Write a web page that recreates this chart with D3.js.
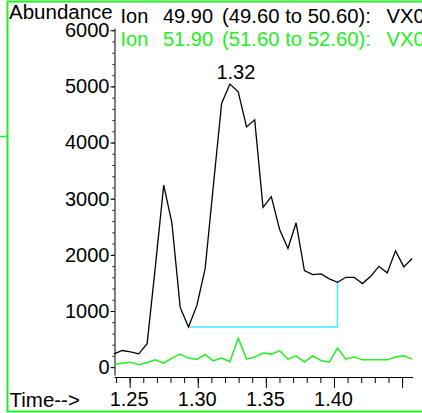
<!DOCTYPE html>
<html>
<head>
<meta charset="utf-8">
<script src="https://cdnjs.cloudflare.com/ajax/libs/d3/7.8.5/d3.min.js"></script>
<style>
body { margin: 0; background: #fff; }
svg { display: block; font-family: "Liberation Sans", Arial, sans-serif; }
</style>
</head>
<body>
<svg width="422" height="413"></svg>
<script>
var svg = d3.select("svg"),
	width = +svg.attr("width"),
	height = +svg.attr("height");

//scan times (min)
var times = [1.2385, 1.2446, 1.2506, 1.2567, 1.2628, 1.2689, 1.2750, 1.2810, 1.2871, 1.2932,
	1.2993, 1.3054, 1.3114, 1.3175, 1.3236, 1.3297, 1.3358, 1.3418, 1.3479, 1.3540,
	1.3601, 1.3662, 1.3722, 1.3783, 1.3844, 1.3905, 1.3966, 1.4026, 1.4087, 1.4148,
	1.4209, 1.4270, 1.4330, 1.4391, 1.4452, 1.4513, 1.4574];

//ion 49.90 abundance (black trace)
var ion49 = [237, 296, 273, 237, 416, 1800, 3243, 2571, 1064, 714,
	1095, 1750, 3220, 4696, 5041, 4904, 4279, 4404, 2845, 3036,
	2452, 2113, 2571, 1720, 1648, 1661, 1571, 1511, 1600, 1600,
	1488, 1618, 1796, 1679, 2071, 1786, 1934];

//ion 51.90 abundance (green trace)
var ion52 = [46, 71, 89, 41, 82, 130, 71, 161, 232, 161,
	136, 225, 113, 161, 95, 518, 143, 179, 250, 232,
	291, 143, 202, 89, 202, 118, 89, 339, 143, 179,
	130, 130, 130, 130, 179, 202, 143];

var yMajor = [0, 1000, 2000, 3000, 4000, 5000, 6000];
var xMajor = [1.25, 1.30, 1.35, 1.40, 1.45];
var xLabels = ["1.25", "1.30", "1.35", "1.40", ""];
var legendIons = ["49.90", "51.90"];
var legendRanges = ["(49.60 to 50.60):", "(51.60 to 52.60):"];
var fileName = "VX0";

//integration: peak apex and baseline from scan to scan
var peakIndex = 14, peakLabel = "1.32";
var baseFrom = 9, baseTo = 27;

var green = "#22f022", cyan = "#40eef8";

//scales
var x = d3.scaleLinear().domain([1.2385, 1.4578]).range([114, 412.7]);
var y = d3.scaleLinear().domain([-140, 6040]).range([375, 28]);

//green frame round the panel
svg.append("rect")
	.attr("x", 7.5).attr("y", 1.5)
	.attr("width", 420).attr("height", 410)
	.attr("fill", "none")
	.attr("stroke", green)
	.attr("stroke-width", 2);

svg.append("line")
	.attr("x1", 0).attr("x2", 7)
	.attr("y1", 136.5).attr("y2", 136.5)
	.attr("stroke", green)
	.attr("stroke-width", 1.5);

//y axis, minor ticks every 200
svg.append("g")
	.attr("transform", "translate(114.5,0)")
	.call(d3.axisLeft(y).tickValues(d3.range(0, 6001, 200)).tickSize(2).tickSizeOuter(0).tickFormat(""))
	.call(function (g) { g.selectAll("line, path").attr("stroke", "#000"); });

var yAxis = svg.append("g")
	.attr("transform", "translate(114.5,0)")
	.call(d3.axisLeft(y).tickValues(yMajor).tickSize(4).tickPadding(1).tickSizeOuter(0).tickFormat(d3.format("d")));
yAxis.select(".domain").remove();
yAxis.selectAll("text")
	.attr("font-size", 20)
	.attr("font-family", "Liberation Sans, Arial, sans-serif")
	.attr("fill", "#000");

//x axis, minor ticks every 0.01
svg.append("g")
	.attr("transform", "translate(0,377)")
	.call(d3.axisBottom(x).tickValues(d3.range(124, 146).map(function (d) { return d / 100; })).tickSize(6).tickSizeOuter(0).tickFormat(""))
	.call(function (g) { g.selectAll("line, path").attr("stroke", "#000"); });

var xAxis = svg.append("g")
	.attr("transform", "translate(0,377)")
	.call(d3.axisBottom(x).tickValues(xMajor).tickSize(11).tickPadding(4).tickSizeOuter(0)
		.tickFormat(function (d, i) { return xLabels[i]; }));
xAxis.select(".domain").remove();
xAxis.selectAll("text")
	.attr("font-size", 20)
	.attr("font-family", "Liberation Sans, Arial, sans-serif")
	.attr("fill", "#000")
	.attr("dx", -1);

//axis titles
svg.append("text")
	.attr("x", 9).attr("y", 19)
	.attr("font-size", 20.5)
	.text("Abundance");

svg.append("text")
	.attr("x", 9.5).attr("y", 406.5)
	.attr("font-size", 20.5)
	.text("Time-->");

//ion legend lines
legendIons.forEach(function (ion, i) {
	var c = i == 0 ? "#000" : green;
	var by = i == 0 ? 22.5 : 46;
	svg.append("text").attr("x", 120.5).attr("y", by).attr("font-size", 20).attr("fill", c).text("Ion");
	svg.append("text").attr("x", 163).attr("y", by).attr("font-size", 20).attr("fill", c).text(ion);
	svg.append("text").attr("x", 222).attr("y", by).attr("font-size", 20.3).attr("fill", c).text(legendRanges[i]);
	svg.append("text").attr("x", 386.5).attr("y", by).attr("font-size", 20.3).attr("fill", c).text(fileName);
});

//traces
var line = d3.line()
	.x(function (d, i) { return x(times[i]); })
	.y(function (d) { return y(d); });

svg.append("path")
	.datum(ion52)
	.attr("d", line)
	.attr("fill", "none")
	.attr("stroke", green)
	.attr("stroke-width", 1.5);

//integration baseline
var baseY = y(ion49[baseFrom]);
svg.append("path")
	.attr("d", "M" + x(times[baseFrom]) + "," + baseY +
		"H" + x(times[baseTo]) +
		"V" + y(ion49[baseTo]))
	.attr("fill", "none")
	.attr("stroke", cyan)
	.attr("stroke-width", 1.5);

svg.append("path")
	.datum(ion49)
	.attr("d", line)
	.attr("fill", "none")
	.attr("stroke", "#000")
	.attr("stroke-width", 1.3)
	.attr("stroke-linejoin", "miter");

//retention time label over the apex
svg.append("text")
	.attr("x", x(times[peakIndex]) + 6)
	.attr("y", y(ion49[peakIndex]) - 5)
	.attr("text-anchor", "middle")
	.attr("font-size", 20)
	.text(peakLabel);
</script>
</body>
</html>
